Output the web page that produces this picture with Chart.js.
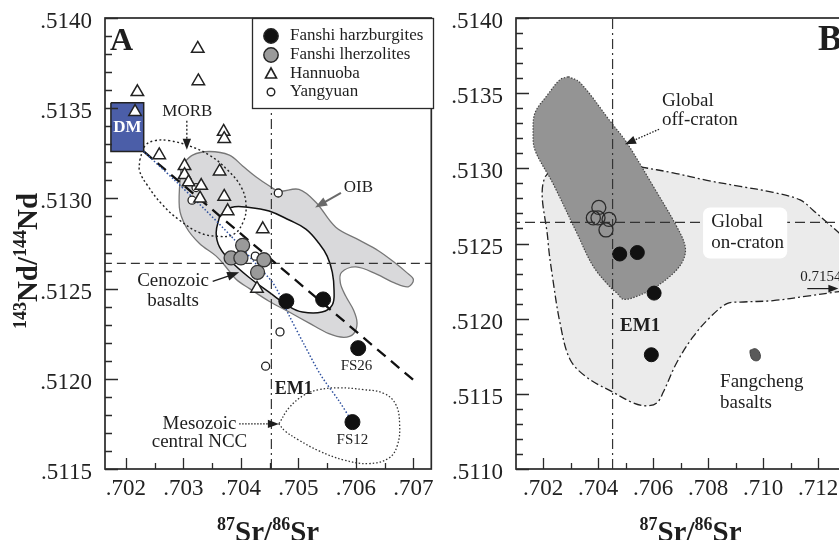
<!DOCTYPE html>
<html>
<head>
<meta charset="utf-8">
<script src="https://cdn.jsdelivr.net/npm/chart.js@4.4.1/dist/chart.umd.min.js"></script>
<style>
  html, body { margin: 0; padding: 0; background: #fff; overflow: hidden; width: 839px; height: 540px; }
  #wrapA { position: absolute; left: 0; top: 0; width: 440px; height: 540px; }
  #wrapB { position: absolute; left: 420px; top: 0; width: 450px; height: 540px; }
</style>
</head>
<body>
<div id="wrapA"><canvas id="chartA" width="440" height="540"></canvas></div>
<div id="wrapB"><canvas id="chartB" width="450" height="540"></canvas></div>
<script>
// ---- values (87Sr/86Sr, 143Nd/144Nd) ----
const harzSr = [0.70479, 0.70543, 0.70604, 0.70594];
const harzNd = [0.51243, 0.51244, 0.51217, 0.51176];

const lherzSr = [0.70403, 0.70383, 0.70400, 0.70440, 0.70429];
const lherzNd = [0.51274, 0.51267, 0.51267, 0.51266, 0.51259];

const hannuobaSr = [0.70325, 0.70326, 0.70220, 0.70216, 0.70258, 0.70370, 0.70371, 0.70302, 0.70302,
                    0.70309, 0.70363, 0.70331, 0.70329, 0.70371, 0.70377, 0.70438, 0.70428];
const hannuobaNd = [0.51383, 0.51365, 0.51359, 0.51348, 0.51324, 0.51337, 0.51333, 0.51318, 0.51313,
                    0.51309, 0.51315, 0.51307, 0.51300, 0.51301, 0.51293, 0.51283, 0.51250];

const yangyuanSr = [0.70322, 0.70315, 0.70465, 0.70425, 0.70468, 0.70443];
const yangyuanNd = [0.51306, 0.51299, 0.51303, 0.51268, 0.51226, 0.51207];

// EM1 / bulk reference lines
const refSr = 0.70453;
const refNd = 0.51264;

// DM box corners and mixing lines
const dmBox = [[0.70174, 0.51353], [0.70231, 0.51353], [0.70231, 0.51326], [0.70174, 0.51326]];
const mixLine = [[0.70231, 0.51326], [0.70705, 0.51198]];
const blueCurve = [[0.70231, 0.51326], [0.70285, 0.51310], [0.70337, 0.51294], [0.70389, 0.51277],
                   [0.70428, 0.51263], [0.70458, 0.51252], [0.70484, 0.51235], [0.70510, 0.51219],
                   [0.70539, 0.51202], [0.70570, 0.51188], [0.70594, 0.51176]];

// fields, panel A
const oibField = [[0.70296, 0.51318], [0.70316, 0.51324], [0.70345, 0.51326], [0.70380, 0.51324], [0.70403, 0.51318],
  [0.70426, 0.51312], [0.70449, 0.51307], [0.70466, 0.51304], [0.70501, 0.51305], [0.70530, 0.51298],
  [0.70565, 0.51284], [0.70605, 0.51277], [0.70639, 0.51271], [0.70665, 0.51265], [0.70688, 0.51259],
  [0.70700, 0.51255], [0.70691, 0.51251], [0.70668, 0.51253], [0.70636, 0.51258], [0.70600, 0.51262],
  [0.70575, 0.51259], [0.70573, 0.51253], [0.70582, 0.51246], [0.70596, 0.51238], [0.70602, 0.51231],
  [0.70596, 0.51225], [0.70579, 0.51223], [0.70553, 0.51225], [0.70518, 0.51231], [0.70484, 0.51237],
  [0.70449, 0.51243], [0.70415, 0.51250], [0.70392, 0.51255], [0.70374, 0.51262], [0.70357, 0.51268],
  [0.70328, 0.51275], [0.70305, 0.51284], [0.70293, 0.51295]];
const cenozoicField = [[0.70363, 0.51290], [0.70383, 0.51295], [0.70415, 0.51295], [0.70449, 0.51293],
  [0.70484, 0.51288], [0.70513, 0.51283], [0.70536, 0.51275], [0.70550, 0.51268], [0.70559, 0.51259],
  [0.70562, 0.51249], [0.70559, 0.51241], [0.70541, 0.51237], [0.70507, 0.51237], [0.70484, 0.51240],
  [0.70449, 0.51248], [0.70415, 0.51256], [0.70383, 0.51265], [0.70363, 0.51273], [0.70357, 0.51281]];
const morbField = [[0.70224, 0.51321], [0.70233, 0.51329], [0.70250, 0.51332], [0.70276, 0.51332],
  [0.70311, 0.51329], [0.70345, 0.51324], [0.70376, 0.51316], [0.70401, 0.51306], [0.70409, 0.51296],
  [0.70404, 0.51287], [0.70387, 0.51280], [0.70359, 0.51279], [0.70328, 0.51281], [0.70293, 0.51288],
  [0.70262, 0.51297], [0.70238, 0.51307], [0.70224, 0.51315]];
const mesozoicField = [[0.70466, 0.51175], [0.70484, 0.51184], [0.70510, 0.51191], [0.70536, 0.51194],
  [0.70570, 0.51195], [0.70613, 0.51194], [0.70648, 0.51192], [0.70669, 0.51186], [0.70676, 0.51175],
  [0.70672, 0.51163], [0.70657, 0.51156], [0.70622, 0.51153], [0.70579, 0.51155], [0.70536, 0.51160],
  [0.70501, 0.51166], [0.70477, 0.51171]];

// fields, panel B
const offCraton = [[0.70292, 0.51361], [0.70335, 0.51357], [0.70450, 0.51330], [0.70505, 0.51317],
  [0.70601, 0.51288], [0.70687, 0.51261], [0.70717, 0.51248], [0.70710, 0.51239], [0.70673, 0.51230],
  [0.70600, 0.51220], [0.70528, 0.51214], [0.70491, 0.51213], [0.70469, 0.51217], [0.70444, 0.51221],
  [0.70382, 0.51235], [0.70323, 0.51257], [0.70236, 0.51290], [0.70171, 0.51312], [0.70164, 0.51324],
  [0.70171, 0.51337], [0.70213, 0.51348], [0.70262, 0.51359]];
const onCraton = [[0.70553, 0.51301], [0.70673, 0.51297], [0.70796, 0.51292], [0.70917, 0.51288],
  [0.71037, 0.51284], [0.71135, 0.51279], [0.71183, 0.51272], [0.71233, 0.51264], [0.71277, 0.51257],
  [0.71317, 0.51249], [0.71339, 0.51236], [0.71325, 0.51219], [0.71277, 0.51218], [0.71160, 0.51215],
  [0.71037, 0.51212], [0.70917, 0.51211], [0.70869, 0.51210], [0.70808, 0.51201], [0.70746, 0.51188],
  [0.70687, 0.51171], [0.70637, 0.51151], [0.70614, 0.51144], [0.70577, 0.51142], [0.70528, 0.51144],
  [0.70455, 0.51151], [0.70359, 0.51161], [0.70298, 0.51173], [0.70262, 0.51197], [0.70236, 0.51226],
  [0.70218, 0.51252], [0.70207, 0.51294], [0.70335, 0.51302]];
const fangcheng = [[0.70953, 0.51179], [0.70972, 0.51180], [0.70986, 0.51178], [0.70990, 0.51174],
  [0.70979, 0.51172], [0.70961, 0.51173], [0.70953, 0.51177]];

// tick labels
const srTicksA = [0.702, 0.703, 0.704, 0.705, 0.706, 0.707];
const ndTicksA = [0.5115, 0.5120, 0.5125, 0.5130, 0.5135, 0.5140];
const srTicksB = [0.702, 0.704, 0.706, 0.708, 0.710, 0.712];
const ndTicksB = [0.5110, 0.5115, 0.5120, 0.5125, 0.5130, 0.5135, 0.5140];

// ---- helpers ----
const SERIF = '"Liberation Serif", "Times New Roman", serif';
const fmtX = v => v.toFixed(3).replace(/^0/, '');
const fmtY = v => v.toFixed(4).replace(/^0/, '');

function steps(a, b, step) {
  const out = [];
  const n = Math.round((b - a) / step);
  for (let i = 0; i <= n; i++) out.push(a + i * step);
  return out;
}
function pts(sr, nd) { return sr.map((v, i) => ({ x: v, y: nd[i] })); }
function line(p, style, order) {
  return Object.assign({ data: p.map(q => ({ x: q[0], y: q[1] })), showLine: true, pointRadius: 0,
    pointHoverRadius: 0, fill: false, tension: 0, order }, style);
}
function field(p, style, order) {
  return line(p.concat([p[0]]), Object.assign({ fill: 'shape', tension: 0.35 }, style), order);
}

function axes(xMin, xMax, xTicks, yMin, yMax, yTicks, yWidth) {
  const tickFont = { family: SERIF, size: 23 };
  return {
    x: {
      type: 'linear', min: xMin, max: xMax,
      afterBuildTicks: s => { s.ticks = xTicks.map(v => ({ value: v })); },
      afterFit: s => { s.height = 71; s.paddingLeft = 0; s.paddingRight = 0; },
      ticks: { callback: v => fmtX(v), font: tickFont, color: '#222', padding: -2, maxRotation: 0, autoSkip: false },
      grid: { display: false }, border: { display: false }
    },
    y: {
      type: 'linear', min: yMin, max: yMax,
      afterBuildTicks: s => { s.ticks = yTicks.map(v => ({ value: v })); },
      afterFit: s => { s.width = yWidth; s.paddingTop = 0; s.paddingBottom = 0; },
      ticks: { callback: v => fmtY(v), font: tickFont, color: '#222', padding: 5, labelOffset: 4, autoSkip: false },
      grid: { display: false }, border: { display: false }
    }
  };
}

// text with superscripts, centred on (cx, cy) baseline
function isoText(ctx, parts, cx, cy) {
  const big = 'bold 29px ' + SERIF, small = 'bold 18px ' + SERIF;
  let w = 0;
  parts.forEach(([s, sup]) => { ctx.font = sup ? small : big; w += ctx.measureText(s).width; });
  let x = cx - w / 2;
  ctx.textAlign = 'left';
  ctx.textBaseline = 'alphabetic';
  parts.forEach(([s, sup]) => {
    ctx.font = sup ? small : big;
    ctx.fillText(s, x, sup ? cy - 11 : cy);
    x += ctx.measureText(s).width;
  });
}

function arrowHead(ctx, x1, y1, x2, y2, len) {
  const a = Math.atan2(y2 - y1, x2 - x1);
  ctx.beginPath();
  ctx.moveTo(x2, y2);
  ctx.lineTo(x2 - len * Math.cos(a) + len * 0.38 * Math.sin(a), y2 - len * Math.sin(a) - len * 0.38 * Math.cos(a));
  ctx.lineTo(x2 - len * Math.cos(a) - len * 0.38 * Math.sin(a), y2 - len * Math.sin(a) + len * 0.38 * Math.cos(a));
  ctx.closePath();
  ctx.fill();
}

// frame, inward ticks and axis titles
function makeFrame(cfg) {
  return {
    id: 'frame',
    afterDatasetsDraw(chart) {
      const { ctx, chartArea: a } = chart;
      const sx = chart.scales.x, sy = chart.scales.y;
      ctx.save();
      ctx.strokeStyle = '#2a2a2a';
      ctx.lineWidth = 1.3;
      ctx.beginPath();
      const tx = (vals, len) => vals.forEach(v => {
        if (v < sx.min - 1e-9 || v > sx.max + 1e-9) return;
        const p = Math.round(sx.getPixelForValue(v)) + 0.5;
        ctx.moveTo(p, a.bottom); ctx.lineTo(p, a.bottom - len);
      });
      const ty = (vals, len) => vals.forEach(v => {
        if (v < sy.min - 1e-9 || v > sy.max + 1e-9) return;
        const p = Math.round(sy.getPixelForValue(v)) + 0.5;
        ctx.moveTo(a.left, p); ctx.lineTo(a.left + len, p);
      });
      tx(cfg.xMinor, 6); tx(cfg.xMajor, 11); ty(cfg.yMinor, 7); ty(cfg.yMajor, 13);
      ctx.stroke();
      ctx.lineWidth = 1.7;
      ctx.strokeRect(a.left, a.top, a.right - a.left, a.bottom - a.top);
      ctx.restore();
    },
    afterDraw(chart) {
      const { ctx, chartArea: a } = chart;
      ctx.save();
      ctx.fillStyle = '#1e1e1e';
      isoText(ctx, [['87', true], ['Sr/', false], ['86', true], ['Sr', false]], (a.left + a.right) / 2 + cfg.titleShift, 541);
      if (cfg.yTitle) {
        ctx.translate(37, 261);
        ctx.rotate(-Math.PI / 2);
        isoText(ctx, [['143', true], ['Nd/', false], ['144', true], ['Nd', false]], 0, 0);
      }
      ctx.restore();
    }
  };
}

// labels, arrows and boxes placed in data units
function makeNotes(items, extra) {
  return {
    id: 'notes',
    afterDatasetsDraw(chart) {
      const { ctx } = chart;
      const sx = chart.scales.x, sy = chart.scales.y;
      const X = v => sx.getPixelForValue(v), Y = v => sy.getPixelForValue(v);
      ctx.save();
      items.forEach(it => {
        ctx.fillStyle = it.color || '#1e1e1e';
        ctx.strokeStyle = it.color || '#1e1e1e';
        if (it.t === 'box') {
          const x1 = X(it.x1), x2 = X(it.x2), y1 = Y(it.y1), y2 = Y(it.y2);
          ctx.fillStyle = '#fff';
          ctx.beginPath();
          ctx.roundRect(x1, y1, x2 - x1, y2 - y1, 7);
          ctx.fill();
        } else if (it.t === 'text' || it.t === 'ptext') {
          ctx.font = (it.font || '19px') + ' ' + SERIF;
          ctx.textAlign = it.align || 'center';
          ctx.textBaseline = it.t === 'ptext' ? 'alphabetic' : 'middle';
          if (it.t === 'ptext') ctx.fillText(it.s, it.px, it.py);
          else ctx.fillText(it.s, X(it.x), Y(it.y));
        } else if (it.t === 'arrow') {
          const x1 = X(it.x1), y1 = Y(it.y1), x2 = X(it.x2), y2 = Y(it.y2);
          const a = Math.atan2(y2 - y1, x2 - x1);
          ctx.lineWidth = it.width || 1.3;
          ctx.setLineDash(it.dash || []);
          ctx.beginPath();
          ctx.moveTo(x1, y1);
          ctx.lineTo(x2 - (it.head - 2) * Math.cos(a), y2 - (it.head - 2) * Math.sin(a));
          ctx.stroke();
          ctx.setLineDash([]);
          arrowHead(ctx, x1, y1, x2, y2, it.head);
        }
      });
      if (extra) extra(ctx);
      ctx.restore();
    }
  };
}

function drawLegend(ctx) {
  ctx.fillStyle = '#fff';
  ctx.fillRect(252, 18, 181, 90);
  ctx.strokeStyle = '#2a2a2a';
  ctx.lineWidth = 1.3;
  ctx.strokeRect(252.5, 18.5, 181, 90);
  const rows = [
    ['Fanshi harzburgites', 'harz'], ['Fanshi lherzolites', 'lherz'],
    ['Hannuoba', 'tri'], ['Yangyuan', 'small']
  ];
  const ys = [36, 55, 74, 92];
  rows.forEach(([label, kind], i) => {
    const x = 271, y = ys[i];
    ctx.beginPath();
    if (kind === 'tri') {
      ctx.moveTo(x, y - 6); ctx.lineTo(x + 5.5, y + 4); ctx.lineTo(x - 5.5, y + 4); ctx.closePath();
      ctx.fillStyle = '#fff'; ctx.fill(); ctx.lineWidth = 1.6; ctx.strokeStyle = '#222'; ctx.stroke();
    } else {
      const r = kind === 'small' ? 3.8 : 7.2;
      ctx.arc(x, y, r, 0, Math.PI * 2);
      ctx.fillStyle = kind === 'harz' ? '#111' : kind === 'lherz' ? '#9a9a9a' : '#fff';
      ctx.fill(); ctx.lineWidth = 1.4; ctx.strokeStyle = '#222'; ctx.stroke();
    }
    ctx.fillStyle = '#1e1e1e';
    ctx.font = '17px ' + SERIF;
    ctx.textAlign = 'left';
    ctx.textBaseline = 'middle';
    ctx.fillText(label, 290, y);
  });
}

// ---- panel A ----
const notesA = [
  { t: 'ptext', s: 'A', px: 110, py: 50, font: 'bold 32px', align: 'left' },
  { t: 'text', s: 'DM', x: 0.702025, y: 0.513395, font: 'bold 17px', color: '#fff' },
  { t: 'text', s: 'MORB', x: 0.70307, y: 0.51348, font: '17px' },
  { t: 'arrow', x1: 0.70306, y1: 0.51343, x2: 0.70306, y2: 0.51327, dash: [2, 2], head: 11 },
  { t: 'text', s: 'OIB', x: 0.70579, y: 0.51306, font: '17px', align: 'left' },
  { t: 'arrow', x1: 0.70574, y1: 0.51303, x2: 0.70529, y2: 0.51295, color: '#6a6a6a', width: 2, head: 12 },
  { t: 'text', s: 'Cenozoic', x: 0.70282, y: 0.51254 },
  { t: 'text', s: 'basalts', x: 0.70282, y: 0.51243 },
  { t: 'arrow', x1: 0.70351, y1: 0.51254, x2: 0.70397, y2: 0.51259, width: 1.5, head: 12 },
  { t: 'text', s: 'FS26', x: 0.70601, y: 0.51207, font: '15px' },
  { t: 'text', s: 'FS12', x: 0.70594, y: 0.51166, font: '15px' },
  { t: 'text', s: 'EM1', x: 0.70492, y: 0.51194, font: 'bold 18px' },
  { t: 'text', s: 'Mesozoic', x: 0.70328, y: 0.51175 },
  { t: 'text', s: 'central NCC', x: 0.70328, y: 0.51165 },
  { t: 'arrow', x1: 0.70397, y1: 0.51175, x2: 0.70466, y2: 0.51175, dash: [1.5, 1.5], head: 11 }
];

new Chart(document.getElementById('chartA'), {
  type: 'scatter',
  data: {
    datasets: [
      { label: 'Fanshi harzburgites', data: pts(harzSr, harzNd), pointRadius: 7.5, pointBackgroundColor: '#111',
        pointBorderColor: '#111', pointBorderWidth: 1, order: 1 },
      { label: 'Fanshi lherzolites', data: pts(lherzSr, lherzNd), pointRadius: 7, pointBackgroundColor: '#9a9a9a',
        pointBorderColor: '#333', pointBorderWidth: 1.3, order: 2 },
      { label: 'Hannuoba', data: pts(hannuobaSr, hannuobaNd), pointStyle: 'triangle', pointRadius: 7.2,
        pointBackgroundColor: '#fff', pointBorderColor: '#222', pointBorderWidth: 1.5, order: 3 },
      { label: 'Yangyuan', data: pts(yangyuanSr, yangyuanNd), pointRadius: 4, pointBackgroundColor: '#fff',
        pointBorderColor: '#222', pointBorderWidth: 1.3, order: 3 },
      line(blueCurve, { borderColor: '#2d4f9e', borderWidth: 1.5, borderDash: [1.5, 2], tension: 0.3 }, 5),
      line(mixLine, { borderColor: '#111', borderWidth: 2.3, borderDash: [11, 7] }, 6),
      field(dmBox, { backgroundColor: '#4b5ea8', borderColor: '#222', borderWidth: 1.5, tension: 0 }, 7),
      line([[refSr, 0.5115], [refSr, 0.5140]], { borderColor: '#333', borderWidth: 1.2, borderDash: [10, 4, 2, 4] }, 8),
      line([[0.7016, refNd], [0.7074, refNd]], { borderColor: '#333', borderWidth: 1.2, borderDash: [9, 5] }, 8),
      field(morbField, { fill: false, borderColor: '#222', borderWidth: 1.4, borderDash: [2, 2.5], tension: 0.4 }, 9),
      field(mesozoicField, { fill: false, borderColor: '#333', borderWidth: 1.3, borderDash: [1.5, 2], tension: 0.4 }, 9),
      field(cenozoicField, { backgroundColor: '#fff', borderColor: '#111', borderWidth: 1.5, tension: 0.4 }, 10),
      field(oibField, { backgroundColor: '#d9d9db', borderColor: '#777', borderWidth: 1.3, tension: 0.35 }, 11)
    ]
  },
  options: {
    responsive: false, animation: false, events: [], devicePixelRatio: 1,
    layout: { padding: { left: 0, right: 7, top: 18, bottom: 0 } },
    plugins: { legend: { display: false }, tooltip: { enabled: false } },
    scales: axes(0.701637, 0.707311, srTicksA, 0.5115, 0.5140, ndTicksA, 105)
  },
  plugins: [
    makeFrame({ xMajor: srTicksA, xMinor: steps(0.702, 0.707, 0.0005), yMajor: ndTicksA,
      yMinor: steps(0.5115, 0.5140, 0.0001), yTitle: true, titleShift: 0 }),
    makeNotes(notesA, drawLegend)
  ]
});

// ---- panel B ----
const notesB = [
  { t: 'ptext', s: 'B', px: 398, py: 50, font: 'bold 36px', align: 'left' },
  { t: 'text', s: 'Global', x: 0.70633, y: 0.51345, align: 'left' },
  { t: 'text', s: 'off-craton', x: 0.70633, y: 0.51332, align: 'left' },
  { t: 'arrow', x1: 0.70622, y1: 0.51326, x2: 0.70498, y2: 0.51316, dash: [1.5, 1.5], head: 11 },
  { t: 'box', x1: 0.70782, y1: 0.51274, x2: 0.71088, y2: 0.51240 },
  { t: 'text', s: 'Global', x: 0.70812, y: 0.51264, align: 'left' },
  { t: 'text', s: 'on-craton', x: 0.70812, y: 0.51250, align: 'left' },
  { t: 'text', s: '0.7154', x: 0.71135, y: 0.51228, font: '15px', align: 'left' },
  { t: 'arrow', x1: 0.71161, y1: 0.51220, x2: 0.71274, y2: 0.51220, width: 1.2, head: 10 },
  { t: 'text', s: 'EM1', x: 0.70553, y: 0.51195, font: 'bold 19px' },
  { t: 'text', s: 'Fangcheng', x: 0.70844, y: 0.51158, align: 'left' },
  { t: 'text', s: 'basalts', x: 0.70844, y: 0.51144, align: 'left' }
];

new Chart(document.getElementById('chartB'), {
  type: 'scatter',
  data: {
    datasets: [
      { label: 'Fanshi harzburgites', data: pts(harzSr, harzNd), pointRadius: 7, pointBackgroundColor: '#111',
        pointBorderColor: '#111', pointBorderWidth: 1, order: 1 },
      { label: 'Fanshi lherzolites', data: pts(lherzSr, lherzNd), pointRadius: 7, pointBackgroundColor: 'rgba(0,0,0,0)',
        pointBorderColor: '#2a2a2a', pointBorderWidth: 1.3, order: 2 },
      line([[refSr, 0.5110], [refSr, 0.5140]], { borderColor: '#333', borderWidth: 1.2, borderDash: [10, 4, 2, 4] }, 4),
      line([[0.7008, refNd], [0.7140, refNd]], { borderColor: '#333', borderWidth: 1.2, borderDash: [10, 5] }, 4),
      field(fangcheng, { backgroundColor: '#5a5a5a', borderColor: '#444', borderWidth: 1, tension: 0.4 }, 5),
      field(offCraton, { backgroundColor: '#949494', borderColor: '#444', borderWidth: 1.2, borderDash: [1.5, 1.5], tension: 0.35 }, 6),
      field(onCraton, { backgroundColor: '#ebebeb', borderColor: '#222', borderWidth: 1.3, borderDash: [8, 3, 2, 3], tension: 0.35 }, 7)
    ]
  },
  options: {
    responsive: false, animation: false, events: [], devicePixelRatio: 1,
    layout: { padding: { left: 0, right: 15, top: 18, bottom: 0 } },
    plugins: { legend: { display: false }, tooltip: { enabled: false } },
    scales: axes(0.701018, 0.713345, srTicksB, 0.5110, 0.5140, ndTicksB, 96)
  },
  plugins: [
    makeFrame({ xMajor: srTicksB, xMinor: steps(0.702, 0.713, 0.001), yMajor: ndTicksB,
      yMinor: steps(0.5110, 0.5140, 0.0001), yTitle: false, titleShift: 5 }),
    makeNotes(notesB)
  ]
});
</script>
</body>
</html>
